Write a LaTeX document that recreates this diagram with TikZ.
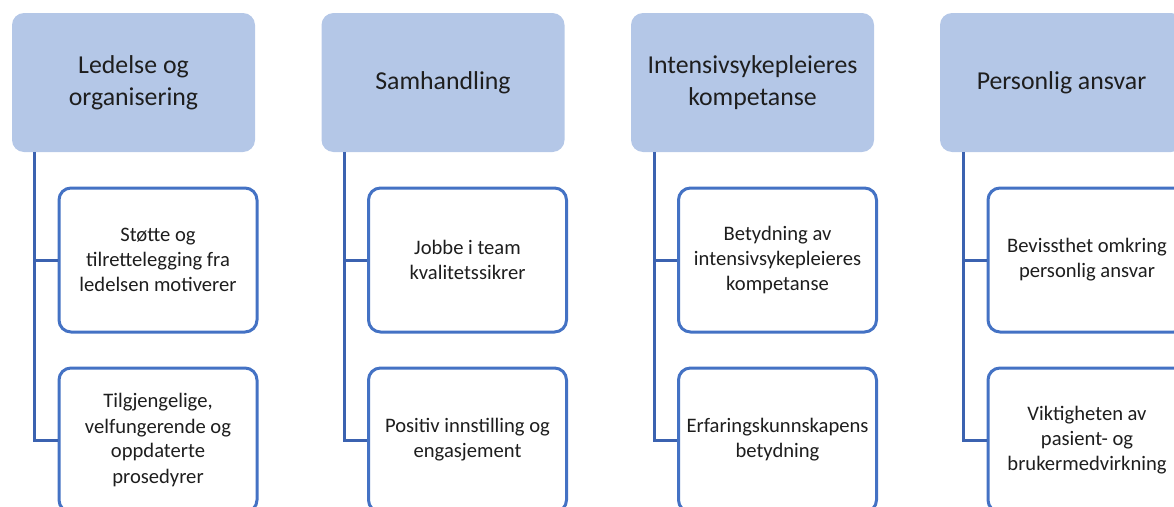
\documentclass[tikz,border=0pt]{standalone}
\usepackage{fontspec}
\setmainfont{Carlito}
\definecolor{hdrfill}{HTML}{B4C7E7}
\definecolor{boxline}{HTML}{4472C4}
\definecolor{connc}{HTML}{3B62B0}
\definecolor{txt}{HTML}{1E1E1E}
\begin{document}
\begin{tikzpicture}[x=1pt,y=-1pt,
  hdr/.style={fill=hdrfill, rounded corners=12pt, minimum width=243pt, minimum height=139pt, align=center, font=\fontsize{25.8}{32}\selectfont, text=txt, inner sep=0pt},
  leaf/.style={draw=boxline, line width=3pt, fill=white, rounded corners=12pt, minimum width=198pt, minimum height=144pt, align=center, font=\fontsize{20.6}{25}\selectfont, text=txt, inner sep=0pt},
  conn/.style={draw=connc, line width=3pt}]
\useasboundingbox (0,0) rectangle (1174,506);
\clip (0,0) rectangle (1174,506);

% column 1
\node[hdr] (h1) at (133.5,82.5) {Ledelse og\\organisering};
\node[leaf] (c11) at (158,260) {Støtte og\\tilrettelegging fra\\ledelsen motiverer};
\node[leaf] (c12) at (158,440) {Tilgjengelige,\\velfungerende og\\oppdaterte\\prosedyrer};
\coordinate (v1) at (34,152);
\draw[conn] (v1) |- (c11.west);
\draw[conn] (v1) |- (c12.west);

% column 2
\node[hdr] (h2) at (443,82.5) {Samhandling};
\node[leaf] (c21) at (467.5,260) {Jobbe i team\\kvalitetssikrer};
\node[leaf] (c22) at (467.5,440) {Positiv innstilling og\\engasjement};
\coordinate (v2) at (344,152);
\draw[conn] (v2) |- (c21.west);
\draw[conn] (v2) |- (c22.west);

% column 3
\node[hdr] (h3) at (752.5,82.5) {Intensivsykepleieres\\kompetanse};
\node[leaf] (c31) at (777.5,260) {Betydning av\\intensivsykepleieres\\kompetanse};
\node[leaf] (c32) at (777.5,440) {Erfaringskunnskapens\\betydning};
\coordinate (v3) at (654,152);
\draw[conn] (v3) |- (c31.west);
\draw[conn] (v3) |- (c32.west);

% column 4
\node[hdr] (h4) at (1061.5,82.5) {Personlig ansvar};
\node[leaf] (c41) at (1087,260) {Bevissthet omkring\\personlig ansvar};
\node[leaf] (c42) at (1087,440) {Viktigheten av\\pasient- og\\brukermedvirkning};
\coordinate (v4) at (963,152);
\draw[conn] (v4) |- (c41.west);
\draw[conn] (v4) |- (c42.west);
\end{tikzpicture}
\end{document}
